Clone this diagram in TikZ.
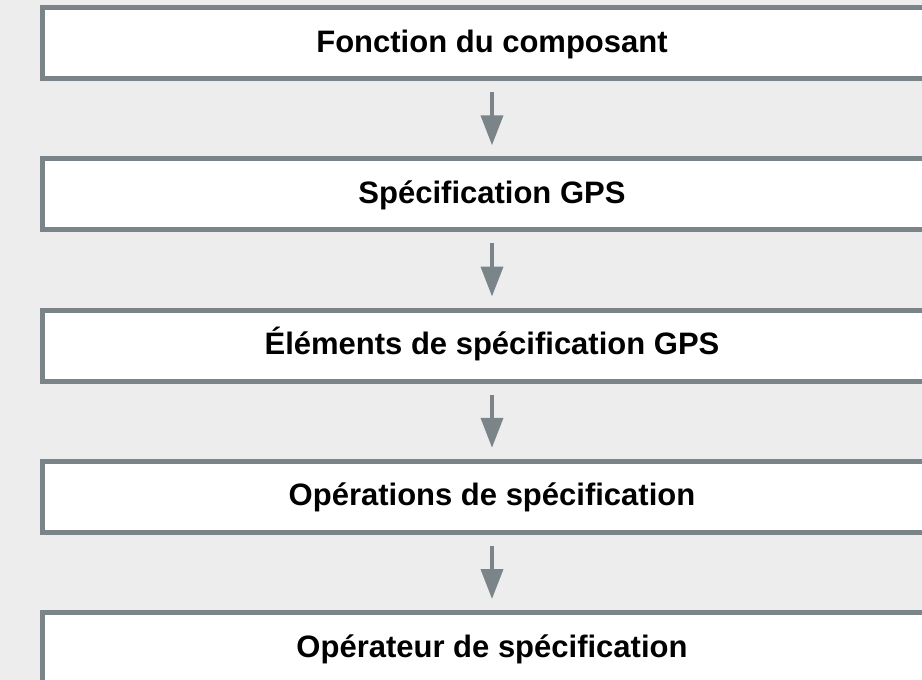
\documentclass[tikz,border=0pt]{standalone}
\usepackage{fontspec}
\setmainfont{Liberation Sans}
\usetikzlibrary{arrows.meta}
\definecolor{gpsgray}{HTML}{7B8489}
\definecolor{gpsback}{HTML}{EDEDED}
\begin{document}
\begin{tikzpicture}
		[x=0.5pt,y=-0.5pt]
			\tikzstyle{every node}=[rectangle, draw=gpsgray, fill=white,
		line width=2.5pt, inner sep=0pt, minimum width=449.5pt, minimum height=35.5pt,
		text height=13pt, text depth=4pt, font=\fontsize{15.5}{18}\selectfont\bfseries]
		%-----fond
		 \fill[gpsback] (0,0) rectangle (922,680);
		 \useasboundingbox (0,0) rectangle (922,680);
		 \clip (0,0) rectangle (922,680);
		%-----etapes
		 \node (FC) at (492,43) {Fonction du composant};
		 \node (SG) at (492,194.25) {Spécification GPS};
		 \node (ES) at (492,345.5) {Éléments de spécification GPS};
		 \node (OS) at (492,496.75) {Opérations de spécification};
		 \node (OP) at (492,648) {Opérateur de spécification};
		 
		 \foreach \from/\to in {FC/SG,SG/ES,ES/OS,OS/OP}
		 \draw[gpsgray, line width=2pt, -{Triangle[length=15pt,width=11pt]},
		 shorten <=5.5pt, shorten >=5.5pt] (\from) -- (\to);
		 
\end{tikzpicture}
\end{document}
